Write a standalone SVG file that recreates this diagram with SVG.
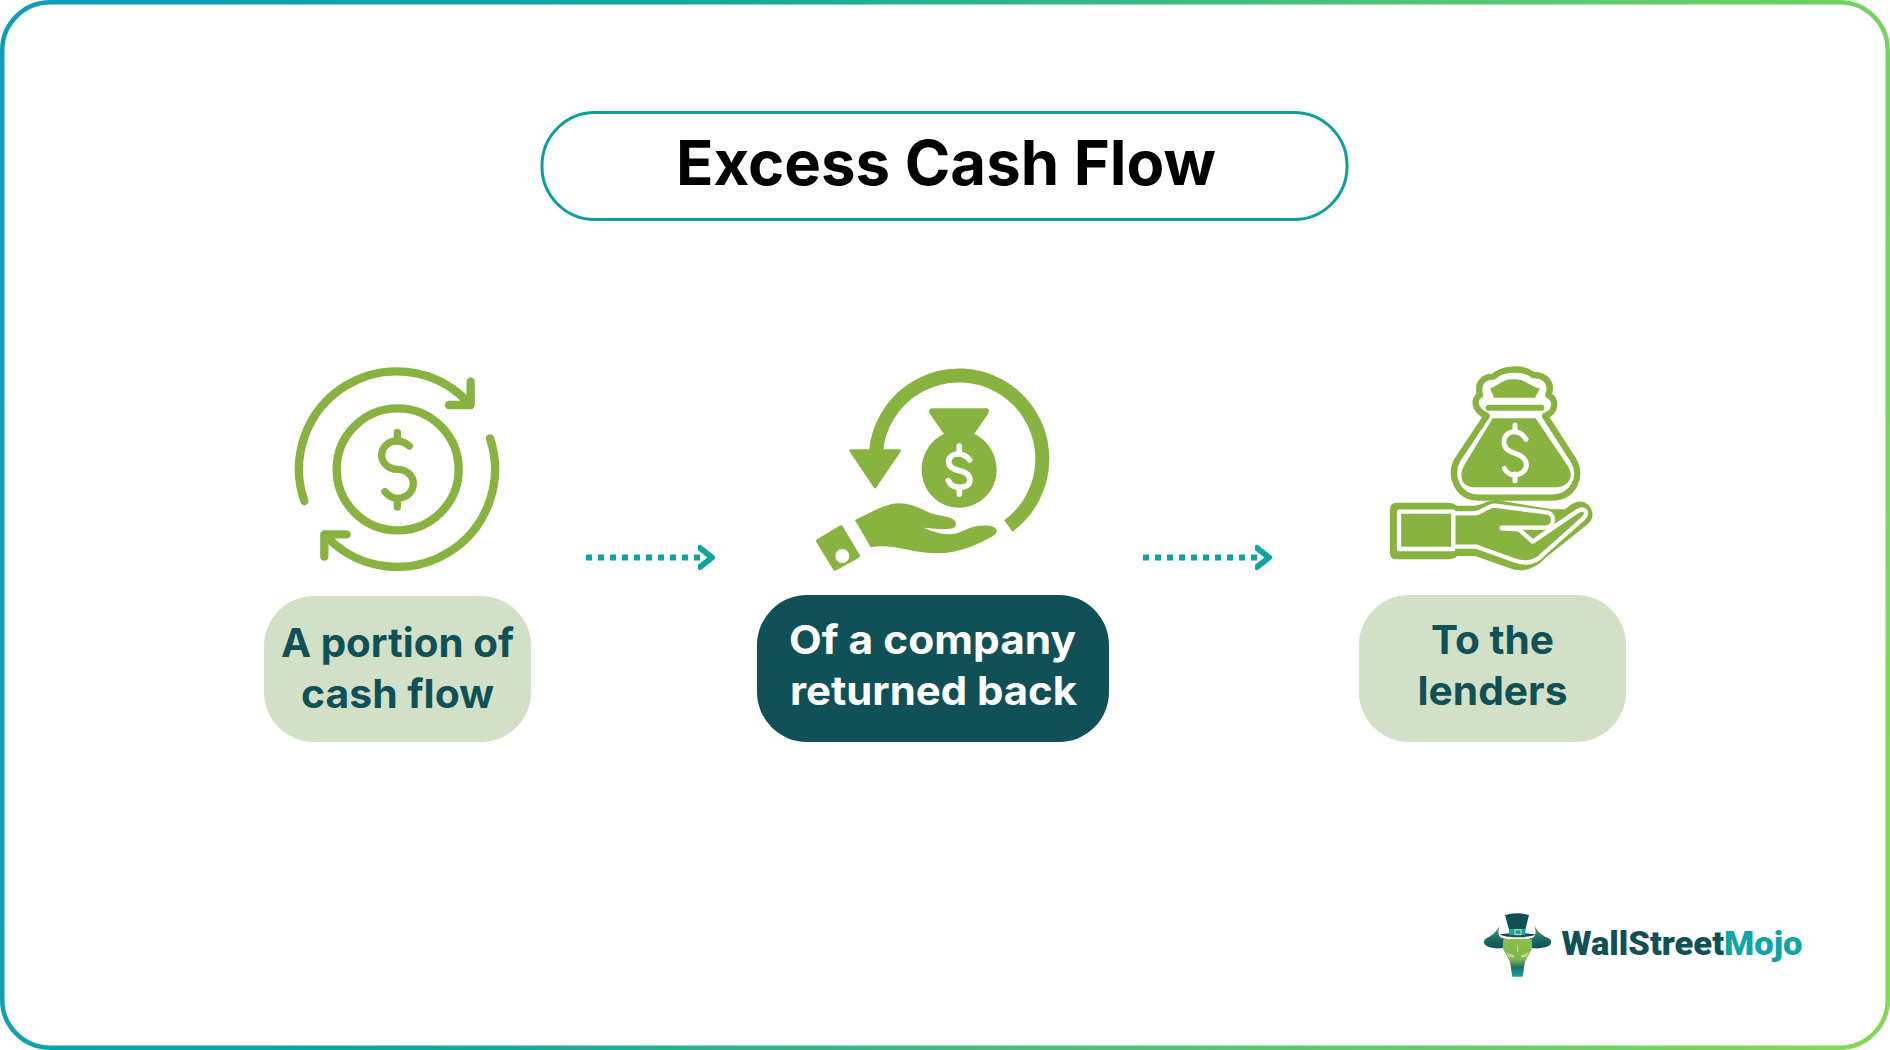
<svg xmlns="http://www.w3.org/2000/svg" width="1890" height="1050" viewBox="0 0 1890 1050">
<style>
text{font-family:Inter,"Liberation Sans",sans-serif}
.pl{font-size:40px;font-weight:700;fill:#0f5156}
.pd{font-size:40px;font-weight:700;fill:#fff}
.pale{fill:#d3e0c8}
.line{fill:none;stroke:#88b341;stroke-linecap:round;stroke-linejoin:round}
.wline{fill:none;stroke:#fff;stroke-linecap:round;stroke-linejoin:round}
.g{fill:#88b341}
.flow{fill:none;stroke:#0ea5a0;stroke-width:6;stroke-dasharray:6 6}
</style>
<defs>
<linearGradient id="bd" gradientUnits="userSpaceOnUse" x1="0" y1="300" x2="1890" y2="750">
<stop offset="0" stop-color="#0d9fb8"/><stop offset=".3" stop-color="#12a69c"/><stop offset=".65" stop-color="#4fc27a"/><stop offset="1" stop-color="#80d957"/>
</linearGradient>
<linearGradient id="horn" x1="0" y1="0" x2="0" y2="1"><stop offset="0" stop-color="#8cbf45"/><stop offset=".6" stop-color="#1f6f68"/><stop offset="1" stop-color="#0f5156"/></linearGradient>
<linearGradient id="face" x1="0" y1="0" x2="0" y2="1"><stop offset="0" stop-color="#8cc04a"/><stop offset=".55" stop-color="#7ab650"/><stop offset=".75" stop-color="#1f6f68"/><stop offset="1" stop-color="#0ea5a0"/></linearGradient>
<marker id="chev" markerUnits="userSpaceOnUse" markerWidth="30" markerHeight="30" viewBox="0 0 30 30" refX="2" refY="15" orient="auto">
<path d="M2 5.5L14 15L2 24.5" fill="none" stroke="#0ea5a0" stroke-width="6" stroke-linecap="round" stroke-linejoin="round"/>
</marker>
</defs>
<rect id="frame" x="2.25" y="2.25" width="1885.5" height="1045.5" rx="48" fill="#fff" stroke="url(#bd)" stroke-width="4.5"/>
<g id="title">
<rect x="542" y="112.5" width="805" height="107" rx="53" fill="#fff" stroke="#0d9e9e" stroke-width="3"/>
<text x="676" y="184.5" font-size="62" font-weight="700" fill="#000" textLength="540" lengthAdjust="spacingAndGlyphs">Excess Cash Flow</text>
</g>
<g id="connectors">
<path class="flow" d="M586 557.5H700" marker-end="url(#chev)"/>
<path class="flow" d="M1143 557.5H1257" marker-end="url(#chev)"/>
</g>
<g id="node-portion">
<g transform="translate(270 340) scale(.33333)">
<circle cx="383" cy="388" r="183" fill="none" stroke="#88b341" stroke-width="25"/>
<path class="line" stroke-width="25" d="M103 483A293 293 0 0 1 590 183M602 125V195H537M660 295A293 293 0 0 1 175 595M163 650V583H230"/>
<path class="line" stroke-width="22" d="M382 277V298M382 478V501M418 318Q400 303 382 303C355 303 335 322 335 345C335 370 357 388 382 388C410 388 430 408 430 430C430 455 410 475 382 475C368 475 355 467 345 455"/>
</g>
<rect class="pale" x="264" y="596" width="267" height="146" rx="50"/>
<text class="pl" x="281" y="656.5" textLength="233" lengthAdjust="spacingAndGlyphs">A portion of</text>
<text class="pl" x="301" y="707.5" textLength="193" lengthAdjust="spacingAndGlyphs">cash flow</text>
</g>
<g id="node-company">
<g transform="translate(790 340) scale(.33333)">
<path fill="none" stroke="#88b341" stroke-width="42" d="M258 335A250 250 0 1 1 655 558"/>
<path class="g" stroke="#88b341" stroke-width="8" stroke-linejoin="round" d="M182 332H329L255 441Z"/>
<path class="g" d="M425 205H590Q602 208 594 222L553 282C590 298 620 340 620 390C620 452 570 503 507 503C445 503 395 452 395 390C395 340 425 298 462 282L420 222Q412 208 425 205Z"/>
<path class="wline" stroke-width="17" stroke-linecap="butt" d="M508 318V336M508 445V462M539 360C528 346 518 342 505 342C488 342 476 352 476 366C476 382 490 388 508 392C527 396 540 404 540 420C540 435 525 442 508 442C495 442 482 436 475 422"/>
<path class="g" d="M195 540C240 518 290 490 325 490C370 490 400 512 430 522C460 530 497 530 498 552C498 570 470 570 400 563C440 580 480 592 520 572C550 555 590 553 610 560C625 567 622 580 610 587C570 610 510 640 440 640C370 640 300 608 242 622Z"/>
<path class="g" stroke="#88b341" stroke-width="12" stroke-linejoin="round" d="M84 603L153 562L204 648L135 686Z"/>
<circle cx="157" cy="648" r="21" fill="#fff"/>
</g>
<rect x="757" y="595" width="352" height="147" rx="50" fill="#0f5156"/>
<text class="pd" x="789" y="653.5" textLength="287" lengthAdjust="spacingAndGlyphs">Of a company</text>
<text class="pd" x="790" y="704.5" textLength="287" lengthAdjust="spacingAndGlyphs">returned back</text>
</g>
<g id="node-lenders">
<g transform="translate(1370 350) scale(.33333)">
<path class="g" d="M368 205H497L595 350C615 385 590 412 560 412H310C280 412 265 385 280 350Z"/>
<path class="line" stroke-width="19" d="M350 198L262 330C235 380 265 443 325 443H545C610 443 640 380 610 330L525 198C560 185 560 150 535 135C550 100 525 75 490 75C460 50 395 55 370 80C340 80 320 100 330 135C310 145 310 180 350 198Z"/>
<path class="g" d="M360 115C380 110 400 85 430 88C465 85 480 110 510 115L495 143H372Z"/>
<path class="line" stroke-width="18" d="M356 173H514"/>
<path class="wline" stroke-width="15" stroke-linecap="butt" d="M435 225V245M435 372V392M468 268C458 252 448 245 433 245C415 245 402 258 402 275C402 295 418 305 435 310C455 316 469 328 469 345C469 362 452 375 433 375C420 375 410 368 403 355"/>
<path class="g" d="M80 458H235Q250 458 262 467H315Q335 465 350 455L380 450L545 478L585 478C610 455 635 445 655 465C675 490 670 510 650 525L525 625C495 660 450 668 420 655L315 618H262Q250 628 235 628H80Q60 628 60 608V478Q60 458 80 458Z"/>
<path class="wline" stroke-width="13" d="M87 485H250V597H87ZM250 490H312C335 490 350 467 375 467L535 488C555 495 555 533 525 533H395M250 590H320L430 630C470 645 500 635 520 612L640 505C660 485 640 470 620 485L488 575L447 538L395 535"/>
</g>
<rect class="pale" x="1359" y="595" width="267" height="147" rx="50"/>
<text class="pl" x="1431" y="654" textLength="123" lengthAdjust="spacingAndGlyphs">To the</text>
<text class="pl" x="1417.5" y="704.5" textLength="150" lengthAdjust="spacingAndGlyphs">lenders</text>
</g>
<g id="logo">
<g transform="translate(1480 905) scale(.33333)">
<path fill="url(#horn)" d="M62 50C55 75 40 90 22 98C8 105 10 118 22 124C40 132 62 132 80 126L74 100C55 100 50 85 62 50Z"/>
<path fill="url(#horn)" d="M160 50C167 75 182 90 204 98C218 105 216 118 204 124C182 132 160 132 144 126L148 100C167 100 172 85 160 50Z"/>
<path fill="url(#face)" d="M70 102H155L157 130L135 170L128 215H97L90 170L68 130Z"/>
<path d="M80 145L100 152M82 152L103 156M145 145L125 152M143 152L122 156" stroke="#e8f2d8" stroke-width="2.5" fill="none"/>
<path d="M113 122V140" stroke="#e8f2d8" stroke-width="2" fill="none"/>
<path fill="#0f5156" d="M75 30Q111 20 147 30L135 78H88Z"/>
<path fill="#0f5156" d="M60 88L88 85H135L166 88C155 100 70 100 60 88Z"/>
<path fill="#12a69c" d="M87 72H136V90H87Z"/>
<rect x="105" y="74" width="18" height="15" fill="none" stroke="#cfe6b8" stroke-width="3"/>
</g>
<text x="1561.5" y="954.5" font-size="33" font-weight="900" style="font-family:Roboto,'Liberation Sans',sans-serif" textLength="241" lengthAdjust="spacingAndGlyphs"><tspan fill="#0f5156">WallStreet</tspan><tspan fill="#0ea5a8">Mojo</tspan></text>
</g>
</svg>
